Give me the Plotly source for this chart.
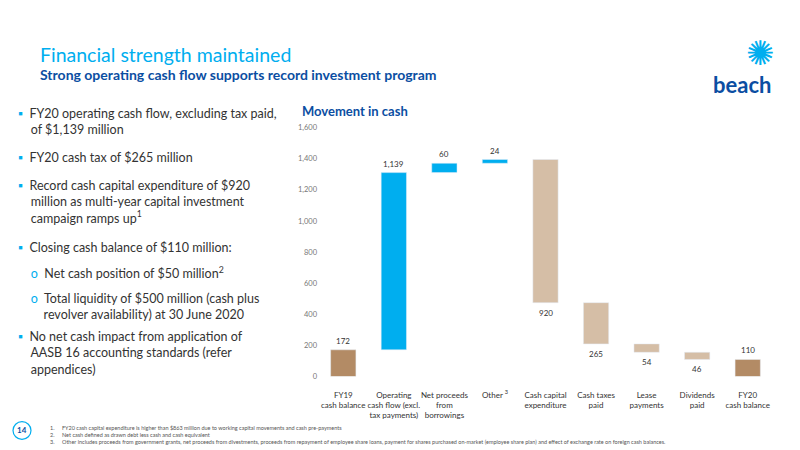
import plotly.graph_objects as go

categories = ["FY19<br>cash balance", "Operating<br>cash flow (excl.<br>tax payments)", "Net proceeds<br>from<br>borrowings",
              "Other <sup>3</sup>", "Cash capital<br>expenditure", "Cash taxes<br>paid", "Lease<br>payments",
              "Dividends<br>paid", "FY20<br>cash balance"]
values = [172, 1139, 60, 24, -920, -265, -54, -46, 110]
kinds = ["total", "rel", "rel", "rel", "rel", "rel", "rel", "rel", "total"]
yticks = [0, 200, 400, 600, 800, 1000, 1200, 1400, 1600]

bases, heights, colors, texts, ty = [], [], [], [], []
run = 0
for v, k in zip(values, kinds):
    if k == "total":
        bases.append(0); heights.append(v); colors.append("#b38b65"); run = v
        ty.append((v, "top"))
    else:
        if v >= 0:
            bases.append(run); heights.append(v); colors.append("#00aeef"); ty.append((run + v, "top"))
        else:
            bases.append(run + v); heights.append(-v); colors.append("#d5bea6"); ty.append((run + v, "bottom"))
        run += v
    texts.append(f"{abs(v):,}")

xs = list(range(len(values)))
fig = go.Figure(go.Bar(x=xs, y=heights, base=bases, marker_color=colors, width=0.5, hoverinfo="skip"))

ann = []
for i, (t, (yv, side)) in enumerate(zip(texts, ty)):
    ann.append(dict(x=i, y=yv, xref="x", yref="y", text=t, showarrow=False,
                    yshift=9 if side == "top" else -10, font=dict(size=8, color="#333")))
ann.append(dict(x=-0.15, y=1610, xref="x", yref="y", text="$ millions", showarrow=False, xanchor="left",
                font=dict(size=7.5, color="#333")))

def px(x, y, text, size, color="#333", bold=False, anchor="left", va="middle"):
    ann.append(dict(x=x / 800, y=1 - y / 450, xref="paper", yref="paper", text=("<b>%s</b>" % text) if bold else text,
                    showarrow=False, xanchor=anchor, yanchor=va, align="left", font=dict(size=size, color=color)))

px(30, 43, "Financial strength maintained", 19.5, "#00aeef")
px(30, 64, "Strong operating cash flow supports record investment program", 14, "#0b4ea2", bold=True)
px(292, 101, "Movement in cash", 13, "#0b4ea2", bold=True)
px(703, 74, "<b>beach</b>", 22, "#0b4ea2")
px(752, 40, "✺", 34, "#00aeef", anchor="center")

sq = "<span style='color:#00aeef'>▪</span>  "
ci = "<span style='color:#00aeef'>o</span>  "
bul = [
    (112, sq + "FY20 operating cash flow, excluding tax paid,<br>    of $1,139 million"),
    (148, sq + "FY20 cash tax of $265 million"),
    (194, sq + "Record cash capital expenditure of $920<br>    million as multi-year capital investment<br>    campaign ramps up<sup>1</sup>"),
    (240, sq + "Closing cash balance of $110 million:"),
    (266, "    " + ci + "Net cash position of $50 million<sup>2</sup>"),
    (300, "    " + ci + "Total liquidity of $500 million (cash plus<br>        revolver availability) at 30 June 2020"),
    (348, sq + "No net cash impact from application of<br>    AASB 16 accounting standards (refer<br>    appendices)"),
]
for y, t in bul:
    px(8, y, t.replace("    ", "&nbsp;&nbsp;&nbsp;&nbsp;"), 12.5, "#333")

px(14, 427, "<b>14</b>", 8, "#0b4ea2", anchor="center")
foot = ["FY20 cash capital expenditure is higher than $863 million due to working capital movements and cash pre-payments",
        "Net cash defined as drawn debt less cash and cash equivalent",
        "Other includes proceeds from government grants, net proceeds from divestments, proceeds from repayment of employee share loans, payment for shares purchased on-market (employee share plan) and effect of exchange rate on foreign cash balances."]
for i, f in enumerate(foot):
    px(40, 424 + i * 7.5, f"{i+1}.", 5.5, "#555")
    px(52, 424 + i * 7.5, f, 5.5, "#555")

fig.update_layout(
    width=800, height=450, margin=dict(l=0, r=0, t=0, b=0), paper_bgcolor="white", plot_bgcolor="white",
    font=dict(family="Lato, Open Sans, sans-serif"), showlegend=False, annotations=ann,
    shapes=[dict(type="circle", xref="paper", yref="paper", x0=5/800, x1=23/800, y0=1-436/450, y1=1-418/450,
                 line=dict(color="#00aeef", width=1.2))],
    xaxis=dict(domain=[310/800, 765/800], range=[-0.5, 8.5], tickvals=xs, ticktext=categories, tickangle=0,
               tickfont=dict(size=8, color="#333"), showgrid=False, zeroline=False, showline=False, ticks="",
               ticklabelstandoff=12),
    yaxis=dict(domain=[78/450, 332/450], range=[0, 1600], tickvals=yticks, ticktext=[f"{v:,}" for v in yticks],
               tickfont=dict(size=7.5, color="#777"), showgrid=False, zeroline=False, showline=False),
)
fig.write_html("out.html")
